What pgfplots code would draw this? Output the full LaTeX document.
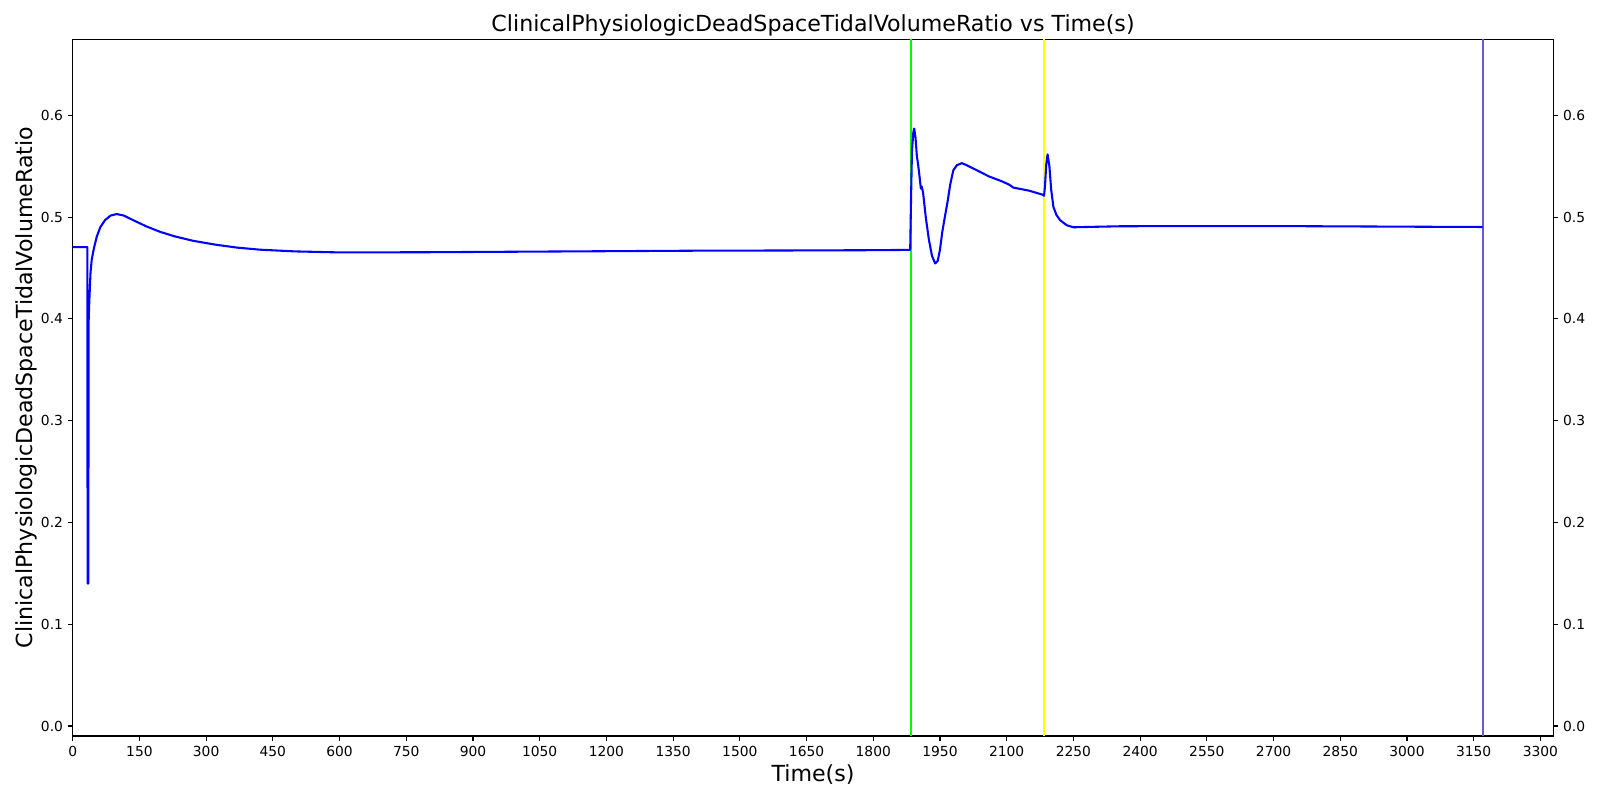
\documentclass[border=0pt]{standalone}
\usepackage{pgfplots}
\pgfplotsset{compat=1.18}
\usepackage{fontspec}
\setmainfont{DejaVu Sans}
\definecolor{curve}{RGB}{0,0,255}
\definecolor{vgreen}{RGB}{0,255,0}
\definecolor{vyellow}{RGB}{255,255,0}
\definecolor{vslate}{RGB}{106,90,205}
\begin{document}
\begin{tikzpicture}
\useasboundingbox (0,0) rectangle (16in,8in);
\pgfplotsset{
  common/.style={
    at={(0.727in,0.64in)}, anchor=south west,
    scale only axis, width=14.806in, height=6.967in,
    xmin=0, xmax=3329, ymin=-0.0098, ymax=0.6747,
    tick align=outside, major tick length=3.5pt,
    every tick/.style={black, line width=0.8pt},
    axis line style={line width=0.8pt},
    tick label style={font=\fontsize{10}{12}\selectfont},
    /pgf/number format/assume math mode=true,
    /pgf/number format/set thousands separator={},
    ytick={0,0.1,0.2,0.3,0.4,0.5,0.6},
    yticklabel style={/pgf/number format/fixed, /pgf/number format/fixed zerofill, /pgf/number format/precision=1},
  }
}
\begin{axis}[common,
  xtick={0,150,...,3300}, xtick pos=bottom, ytick pos=both,
  yticklabel pos=left,
  title={ClinicalPhysiologicDeadSpaceTidalVolumeRatio vs Time(s)},
  title style={font=\fontsize{16}{19}\selectfont, yshift=-7.5pt},
  xlabel={Time(s)}, ylabel={ClinicalPhysiologicDeadSpaceTidalVolumeRatio},
  label style={font=\fontsize{16}{19}\selectfont},
  xlabel style={yshift=0.5pt},
  ylabel style={yshift=-4pt},
]
\addplot[vgreen, line width=1.5pt, forget plot] coordinates {(1884,-0.0098) (1884,0.6747)};
\addplot[vyellow, line width=1.5pt, forget plot] coordinates {(2183,-0.0098) (2183,0.6747)};
\addplot[vslate, line width=1.5pt, forget plot] coordinates {(3170.5,-0.0098) (3170.5,0.6747)};
\addplot[curve, line width=1.5pt, line join=round] coordinates {
(0,0.4705) (33,0.4705) (33.5,0.14) (35,0.14) (36,0.40) (37.4,0.418) (40,0.445)
(42.7,0.458) (48,0.470) (54,0.4806) (62,0.490) (72.6,0.497) (85,0.5015) (99,0.503)
(115,0.5015) (136,0.497) (165,0.491) (196,0.4856) (230,0.481) (271,0.4767)
(320,0.473) (370,0.470) (421,0.468) (500,0.4663) (600,0.4653) (800,0.4655)
(1000,0.466) (1200,0.4665) (1400,0.467) (1600,0.4672) (1800,0.4675) (1883,0.4678)
(1885,0.52) (1887,0.565) (1890,0.583) (1892,0.587) (1895,0.578) (1898,0.560)
(1901,0.551) (1904,0.540) (1907,0.528) (1909,0.530) (1912,0.524) (1918,0.500)
(1925,0.478) (1932,0.462) (1939,0.4545) (1945,0.457) (1950,0.468) (1955,0.485)
(1961,0.5003) (1967,0.515) (1973,0.532) (1980,0.546) (1988,0.551) (1999,0.553)
(2010,0.551) (2033,0.546) (2060,0.540) (2090,0.535) (2105,0.532) (2115,0.529)
(2150,0.526) (2181,0.522) (2184,0.521) (2186,0.530) (2189,0.552) (2192,0.5617)
(2196,0.550) (2200,0.527) (2205,0.510) (2212,0.502) (2220,0.497) (2235,0.492)
(2250,0.490) (2300,0.4905) (2355,0.491) (2500,0.4912) (2700,0.4912) (2900,0.4908)
(3050,0.4905) (3170,0.4903)
};
\end{axis}
\begin{axis}[common,
  axis x line=none, axis y line*=right,
  ytick pos=right, yticklabel pos=right,
]
\addplot[draw=none] coordinates {(0,0)};
\end{axis}
\end{tikzpicture}
\end{document}
